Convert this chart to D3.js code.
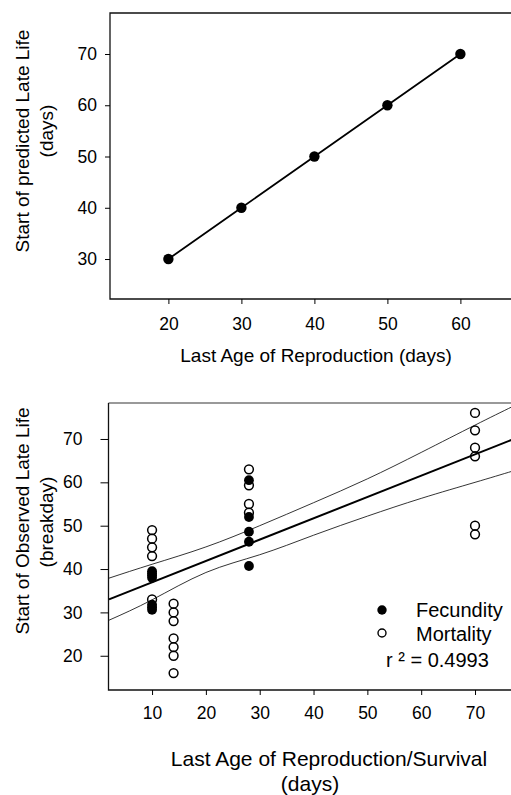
<!DOCTYPE html>
<html>
<head>
<meta charset="utf-8">
<script src="https://cdn.jsdelivr.net/npm/d3@7/dist/d3.min.js"></script>
<style>
  body { margin: 0; background: #fff; }
  svg { display: block; font-family: "Liberation Sans", Arial, sans-serif; }
  .tick text { font-size: 17.5px; fill: #000; }
</style>
</head>
<body>
<svg id="chart" width="511" height="795"></svg>
<script>
// top panel: predicted start of late life
const lastAge = [20, 30, 40, 50, 60];
const predictedStart = [30, 40, 50, 60, 70];
const topXTicks = [20, 30, 40, 50, 60];
const topYTicks = [30, 40, 50, 60, 70];

// bottom panel: observed breakdays
const fecX = [10, 10, 10, 10, 10, 10, 10, 28, 28, 28, 28, 28];
const fecY = [39.5, 39, 38.5, 38, 31.8, 31.2, 30.6, 60.5, 52, 48.6, 46.3, 40.7];
const morX = [10, 10, 10, 10, 10, 14, 14, 14, 14, 14, 14, 14, 28, 28, 28, 28, 70, 70, 70, 70, 70, 70];
const morY = [49, 47, 45, 43, 33, 32, 30, 28, 24, 22, 20, 16, 63, 59.3, 55, 53, 76, 72, 68, 66, 50, 48];
const fitX = [2, 77];
const fitY = [33.0, 69.9];
const bandX = [2, 10, 20, 30, 40, 50, 60, 70, 77];
const bandUpper = [37.9, 41.1, 45.1, 50.0, 55.3, 60.8, 66.9, 73.2, 77.5];
const bandLower = [28.2, 32.9, 39.2, 43.3, 47.8, 52.2, 56.3, 60.0, 62.6];
const botXTicks = [10, 20, 30, 40, 50, 60, 70];
const botYTicks = [20, 30, 40, 50, 60, 70];

const svg = d3.select("#chart");

// ---------- top panel ----------
const x1 = d3.scaleLinear().domain([12, 68]).range([110, 518.8]);
const y1 = d3.scaleLinear().domain([22.2, 78]).range([299, 13]);
const g1 = svg.append("g");

g1.append("path")
  .attr("d", "M511,13H110V299H511")
  .attr("fill", "none").attr("stroke", "#111").attr("stroke-width", 1.3);

g1.append("g")
  .attr("transform", "translate(0,299)")
  .call(d3.axisBottom(x1).tickValues(topXTicks).tickSize(5).tickPadding(14))
  .call(a => a.select(".domain").remove());
g1.append("g")
  .attr("transform", "translate(110,0)")
  .call(d3.axisLeft(y1).tickValues(topYTicks).tickSize(5).tickPadding(8))
  .call(a => a.select(".domain").remove());

const pts1 = lastAge.map((d, i) => [d, predictedStart[i]]);
g1.append("path")
  .attr("d", d3.line().x(d => x1(d[0])).y(d => y1(d[1]))(pts1))
  .attr("fill", "none").attr("stroke", "#000").attr("stroke-width", 1.8);
g1.selectAll("circle").data(pts1).enter().append("circle")
  .attr("cx", d => x1(d[0])).attr("cy", d => y1(d[1]))
  .attr("r", 5.2).attr("fill", "#000");

g1.append("text").attr("x", 316).attr("y", 362).attr("text-anchor", "middle")
  .attr("font-size", 19).text("Last Age of Reproduction (days)");
g1.append("text").attr("transform", "translate(29,141) rotate(-90)")
  .attr("text-anchor", "middle").attr("font-size", 19).text("Start of predicted Late Life");
g1.append("text").attr("transform", "translate(53,131) rotate(-90)")
  .attr("text-anchor", "middle").attr("font-size", 19).text("(days)");

// ---------- bottom panel ----------
const x2 = d3.scaleLinear().domain([2, 77]).range([109, 512.7]);
const y2 = d3.scaleLinear().domain([12.1, 78.3]).range([690, 403]);
const g2 = svg.append("g");

g2.append("line").attr("x1", 108.5).attr("x2", 511).attr("y1", 403).attr("y2", 403)
  .attr("stroke", "#777").attr("stroke-width", 1.3);
g2.append("path")
  .attr("d", "M108.5,403V690H511")
  .attr("fill", "none").attr("stroke", "#111").attr("stroke-width", 1.3);

g2.append("g")
  .attr("transform", "translate(0,690)")
  .call(d3.axisBottom(x2).tickValues(botXTicks).tickSize(5).tickPadding(12))
  .call(a => a.select(".domain").remove());
g2.append("g")
  .attr("transform", "translate(108.5,0)")
  .call(d3.axisLeft(y2).tickValues(botYTicks).tickSize(8).tickPadding(18))
  .call(a => a.select(".domain").remove());

const band = d3.line().curve(d3.curveNatural).x(d => x2(d[0])).y(d => y2(d[1]));
g2.append("path")
  .attr("d", band(bandX.map((d, i) => [d, bandUpper[i]])))
  .attr("fill", "none").attr("stroke", "#000").attr("stroke-width", 0.8);
g2.append("path")
  .attr("d", band(bandX.map((d, i) => [d, bandLower[i]])))
  .attr("fill", "none").attr("stroke", "#000").attr("stroke-width", 0.8);
g2.append("path")
  .attr("d", d3.line().x(d => x2(d[0])).y(d => y2(d[1]))(fitX.map((d, i) => [d, fitY[i]])))
  .attr("fill", "none").attr("stroke", "#000").attr("stroke-width", 2);

g2.selectAll(".fec").data(fecX.map((d, i) => [d, fecY[i]])).enter().append("circle")
  .attr("class", "fec")
  .attr("cx", d => x2(d[0])).attr("cy", d => y2(d[1]))
  .attr("r", 4.9).attr("fill", "#000");
g2.selectAll(".mor").data(morX.map((d, i) => [d, morY[i]])).enter().append("circle")
  .attr("class", "mor")
  .attr("cx", d => x2(d[0])).attr("cy", d => y2(d[1]))
  .attr("r", 4.4).attr("fill", "none").attr("stroke", "#000").attr("stroke-width", 1.5);

// legend
g2.append("circle").attr("cx", 382).attr("cy", 610).attr("r", 4.7).attr("fill", "#000");
g2.append("circle").attr("cx", 382).attr("cy", 633).attr("r", 4)
  .attr("fill", "none").attr("stroke", "#000").attr("stroke-width", 1.4);
g2.append("text").attr("x", 416).attr("y", 617).attr("font-size", 20).text("Fecundity");
g2.append("text").attr("x", 416).attr("y", 641).attr("font-size", 20).text("Mortality");
g2.append("text").attr("x", 386).attr("y", 667).attr("font-size", 20).text("r ² = 0.4993");

g2.append("text").attr("x", 329).attr("y", 766).attr("text-anchor", "middle")
  .attr("font-size", 21).text("Last Age of Reproduction/Survival");
g2.append("text").attr("x", 310).attr("y", 791).attr("text-anchor", "middle")
  .attr("font-size", 21).text("(days)");
g2.append("text").attr("transform", "translate(29,521) rotate(-90)")
  .attr("text-anchor", "middle").attr("font-size", 19).text("Start of Observed Late Life");
g2.append("text").attr("transform", "translate(53,522) rotate(-90)")
  .attr("text-anchor", "middle").attr("font-size", 19).text("(breakday)");
</script>
</body>
</html>
